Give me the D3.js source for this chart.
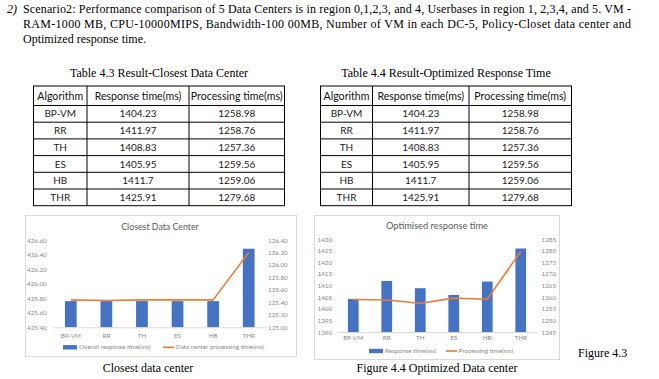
<!DOCTYPE html>
<html><head><meta charset="utf-8">
<script src="https://cdn.jsdelivr.net/npm/d3@7"></script>
<style>
body{margin:0;background:#fff;}
svg{display:block;}
</style></head>
<body>
<svg id="page" width="659" height="379"></svg>
<script>
// ---------- data ----------
const categories = ["BP-VM","RR","TH","ES","HB","THR"];
const tableHeaders = ["Algorithm","Response time(ms)","Processing time(ms)"];
const tableResponse = ["1404.23","1411.97","1408.83","1405.95","1411.7","1425.91"];
const tableProcessing = ["1258.98","1258.76","1257.36","1259.56","1259.06","1279.68"];

// Chart 1 (Closest Data Center) values as plotted
const closestResponse = [425.76, 425.76, 425.76, 425.76, 425.76, 426.48];
const closestProcessing = [125.44, 125.43, 125.44, 125.44, 125.44, 126.20];
const closestLeftTicks = [425.40, 425.60, 425.80, 426.00, 426.20, 426.40, 426.60];
const closestRightTicks = [125.00, 125.20, 125.40, 125.60, 125.80, 126.00, 126.20, 126.40];

// Chart 2 (Optimised response time)
const optResponse = [1404.23, 1411.97, 1408.83, 1405.95, 1411.7, 1425.91];
const optProcessing = [1258.98, 1258.76, 1257.36, 1259.56, 1259.06, 1279.68];
const optLeftTicks = [1390,1395,1400,1405,1410,1415,1420,1425,1430];
const optRightTicks = [1245,1250,1255,1260,1265,1270,1275,1280,1285];

const BLUE = "#4472C4", ORANGE = "#ED7D31";
const svg = d3.select("#page");
svg.append("rect").attr("width",659).attr("height",379).attr("fill","#fff");

// ---------- paragraph ----------
const serif = "'Liberation Serif','Times New Roman',serif";
svg.append("text").attr("x",7).attr("y",13).attr("font-family",serif)
  .attr("font-size",12).attr("font-style","italic").text("2)");
const paraLines = [
  {t:"Scenario2: Performance comparison of 5 Data Centers is in region 0,1,2,3, and 4, Userbases in region 1, 2,3,4, and 5. VM -", y:13, just:true},
  {t:"RAM-1000 MB, CPU-10000MIPS, Bandwidth-100 00MB, Number of VM in each DC-5, Policy-Closet data center and", y:28, just:true},
  {t:"Optimized response time.", y:43, just:false}
];
paraLines.forEach(l=>{
  const t = svg.append("text").attr("x",23).attr("y",l.y).attr("font-family",serif)
    .attr("font-size",12).attr("fill","#000").text(l.t);
  if(l.just) t.attr("textLength",608).attr("lengthAdjust","spacing");
});

// ---------- tables ----------
const tfont = "Lato, 'Open Sans', sans-serif";
function drawTable(cols, caption){
  const top = 86, headH = 19.5, rowH = 16.7;
  svg.append("text").attr("x",(cols[0]+cols[3])/2).attr("y",77).attr("text-anchor","middle")
    .attr("font-family",serif).attr("font-size",12).text(caption);
  const g = svg.append("g");
  const nRows = categories.length;
  const bottom = top + headH + rowH*nRows;
  const ys = [top, top+headH];
  for(let i=1;i<=nRows;i++) ys.push(top+headH+rowH*i);
  ys.forEach(y=>g.append("line").attr("x1",cols[0]-0.5).attr("x2",cols[3]+0.5).attr("y1",y).attr("y2",y)
    .attr("stroke","#000").attr("stroke-width",1));
  cols.forEach(x=>g.append("line").attr("x1",x).attr("x2",x).attr("y1",top).attr("y2",bottom)
    .attr("stroke","#000").attr("stroke-width",1));
  tableHeaders.forEach((h,j)=>{
    g.append("text").attr("x",(cols[j]+cols[j+1])/2).attr("y",top+headH/2+3.8)
      .attr("text-anchor","middle").attr("font-family",tfont).attr("font-size",10.6)
      .attr("fill","#111").text(h);
  });
  categories.forEach((c,i)=>{
    const y = top+headH+rowH*i+rowH/2+3.6;
    [c, tableResponse[i], tableProcessing[i]].forEach((v,j)=>{
      g.append("text").attr("x",(cols[j]+cols[j+1])/2).attr("y",y)
        .attr("text-anchor","middle").attr("font-family",tfont).attr("font-size",10)
        .attr("fill","#222").text(v);
    });
  });
}
drawTable([33.5,87,189,284.5],"Table 4.3 Result-Closest Data Center");
drawTable([320.5,372.5,469,571.5],"Table 4.4 Result-Optimized Response Time");

// ---------- charts ----------
const cfont = "Lato, 'Open Sans', sans-serif";
function drawChart(o){
  const g = svg.append("g");
  g.append("rect").attr("x",o.box[0]).attr("y",o.box[1]).attr("width",o.box[2]-o.box[0])
    .attr("height",o.box[3]-o.box[1]).attr("fill","#fff").attr("stroke","#d9d9d9").attr("stroke-width",1);
  g.append("text").attr("x",o.titleX).attr("y",o.titleY).attr("text-anchor","middle")
    .attr("font-family",cfont).attr("font-size",o.titleSize).attr("fill","#595959").text(o.title);

  const x = d3.scaleBand().domain(categories).range(o.xr).paddingInner(o.pad).paddingOuter(o.pad/2);
  const yl = d3.scaleLinear().domain(o.ld).range([o.base,o.top]);
  const yr = d3.scaleLinear().domain(o.rd).range([o.base,o.top]);

  const axL = g.append("g").attr("transform",`translate(${o.lx},0)`)
    .call(d3.axisLeft(yl).tickValues(o.lt).tickSize(0).tickFormat(o.fmt));
  const axR = g.append("g").attr("transform",`translate(${o.rx},0)`)
    .call(d3.axisRight(yr).tickValues(o.rt).tickSize(0).tickFormat(o.fmt));
  [axL,axR].forEach(a=>{
    a.select(".domain").remove();
    a.selectAll("text").attr("font-family",cfont).attr("font-size",6.3).attr("fill","#8a8a8a")
      .attr("text-anchor","start").attr("x",0).attr("dy","0.32em");
  });

  g.selectAll(".bar").data(o.bars).join("rect").attr("class","bar")
    .attr("x",(d,i)=>x(categories[i])).attr("width",x.bandwidth())
    .attr("y",d=>yl(d)).attr("height",d=>o.base-yl(d)).attr("fill",BLUE);

  const axB = g.append("g").attr("transform",`translate(0,${o.base})`)
    .call(d3.axisBottom(x).tickSize(0).tickSizeOuter(0));
  axB.select(".domain").attr("stroke","#d9d9d9");
  axB.selectAll("text").attr("font-family",cfont).attr("font-size",6.3).attr("fill","#8a8a8a")
    .attr("y",o.xlabY-o.base).attr("dy","0.32em");

  const line = d3.line().x((d,i)=>x(categories[i])+x.bandwidth()/2).y(d=>yr(d));
  g.append("path").datum(o.line).attr("d",line).attr("fill","none")
    .attr("stroke",ORANGE).attr("stroke-width",1.6).attr("stroke-linejoin","round");

  const ly = o.legY;
  g.append("rect").attr("x",o.leg1[0]).attr("y",ly-2.2).attr("width",o.leg1[1]).attr("height",4.4).attr("fill",BLUE);
  g.append("text").attr("x",o.leg1[0]+o.leg1[1]+2).attr("y",ly).attr("dy","0.32em")
    .attr("font-family",cfont).attr("font-size",6.3).attr("fill","#8a8a8a").text(o.legText[0]);
  g.append("line").attr("x1",o.leg2[0]).attr("x2",o.leg2[0]+o.leg2[1]).attr("y1",ly).attr("y2",ly)
    .attr("stroke",ORANGE).attr("stroke-width",1.6);
  g.append("text").attr("x",o.leg2[0]+o.leg2[1]+1.5).attr("y",ly).attr("dy","0.32em")
    .attr("font-family",cfont).attr("font-size",6.3).attr("fill","#8a8a8a").text(o.legText[1]);
}

drawChart({
  box:[25.5,215.5,296.5,356.5], title:"Closest Data Center", titleX:160, titleY:230, titleSize:8.8,
  xr:[53,266.5], pad:0.67, ld:[425.4,426.6], rd:[125,126.4], base:327.3, top:240,
  lt:closestLeftTicks, rt:closestRightTicks, lx:27, rx:268, fmt:d3.format(".2f"),
  bars:closestResponse, line:closestProcessing, xlabY:336,
  legY:347.3, leg1:[63,14], leg2:[163,11.5],
  legText:["Overall response time(ms)","Data center processing time(ms)"]
});
drawChart({
  box:[314.5,215.5,559.5,359.5], title:"Optimised response time", titleX:437, titleY:229, titleSize:9.3,
  xr:[336.5,537.5], pad:0.68, ld:[1390,1430], rd:[1245,1285], base:332, top:239,
  lt:optLeftTicks, rt:optRightTicks, lx:317.5, rx:541.5, fmt:d3.format("d"),
  bars:optResponse, line:optProcessing, xlabY:338,
  legY:351, leg1:[369,14], leg2:[446,11],
  legText:["Response time(ms)","Processing time(ms)"]
});

svg.append("text").attr("x",148).attr("y",372).attr("text-anchor","middle")
  .attr("font-family",serif).attr("font-size",12).text("Closest data center");
svg.append("text").attr("x",437).attr("y",372).attr("text-anchor","middle")
  .attr("font-family",serif).attr("font-size",12).text("Figure 4.4 Optimized Data center");
svg.append("text").attr("x",578).attr("y",357)
  .attr("font-family",serif).attr("font-size",12).text("Figure 4.3");
</script>
</body></html>
